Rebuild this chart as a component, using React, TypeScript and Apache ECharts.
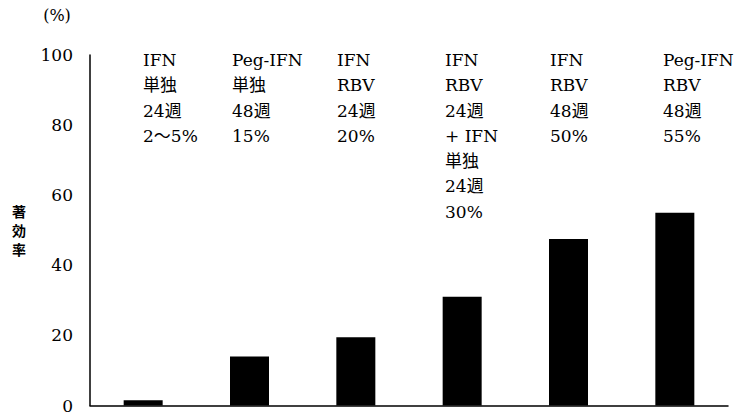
import React, { useEffect, useRef } from "react";
import * as echarts from "echarts";

// ---- Data ----
const categories = [
  "IFN 単独 24週",
  "Peg-IFN 単独 48週",
  "IFN RBV 24週",
  "IFN RBV 24週 + IFN 単独 24週",
  "IFN RBV 48週",
  "Peg-IFN RBV 48週",
];
const efficacy = [1.5, 14, 19.5, 31, 47.5, 55];
const annotations = [
  ["IFN", "単独", "24週", "2～5%"],
  ["Peg-IFN", "単独", "48週", "15%"],
  ["IFN", "RBV", "24週", "20%"],
  ["IFN", "RBV", "24週", "+ IFN", "単独", "24週", "30%"],
  ["IFN", "RBV", "48週", "50%"],
  ["Peg-IFN", "RBV", "48週", "55%"],
];
const yMin = 0;
const yMax = 100;
const yStep = 20;
const yUnit = "(%)";
const yTitle = "著効率";

const FONT = "'DejaVu Serif', 'Noto Sans CJK JP', serif";

export default function App() {
  const ref = useRef<HTMLDivElement>(null);

  useEffect(() => {
    if (!ref.current) return;
    const chart = echarts.init(ref.current, null, { renderer: "svg" });

    const columnX = [143, 232, 337, 445, 550, 663];
    const lineH = 25.3;

    const graphic: any[] = [
      {
        type: "text",
        x: 57,
        y: 15,
        style: {
          text: yUnit,
          font: `16px ${FONT}`,
          fill: "#000",
          align: "center",
          verticalAlign: "middle",
        },
      },
    ];
    yTitle.split("").forEach((ch, i) => {
      graphic.push({
        type: "text",
        x: 19,
        y: 211 + i * 19,
        style: {
          text: ch,
          font: `bold 14px 'Noto Sans CJK JP', sans-serif`,
          fill: "#000",
          align: "center",
          verticalAlign: "middle",
        },
      });
    });
    annotations.forEach((lines, i) => {
      graphic.push({
        type: "text",
        x: columnX[i],
        y: 60 - lineH / 2,
        style: {
          text: lines.join("\n"),
          font: `17px ${FONT}`,
          lineHeight: lineH,
          fill: "#000",
          align: "left",
          verticalAlign: "top",
        },
      });
    });

    chart.setOption({
      animation: false,
      backgroundColor: "#fff",
      grid: { left: 90, right: 18, top: 55, bottom: 5, containLabel: false },
      xAxis: {
        type: "category",
        data: categories,
        axisLine: { show: true, lineStyle: { color: "#000", width: 1.5 } },
        axisTick: { show: false },
        axisLabel: { show: false },
        splitLine: { show: false },
      },
      yAxis: {
        type: "value",
        min: yMin,
        max: yMax,
        interval: yStep,
        axisLine: { show: true, lineStyle: { color: "#000", width: 1.5 } },
        axisTick: { show: false },
        splitLine: { show: false },
        axisLabel: {
          color: "#000",
          fontFamily: FONT,
          fontSize: 17,
          margin: 17,
        },
      },
      series: [
        {
          type: "bar",
          data: efficacy,
          barWidth: 39,
          itemStyle: { color: "#000" },
        },
      ],
      graphic,
    });

    return () => chart.dispose();
  }, []);

  return (
    <div
      ref={ref}
      style={{ position: "absolute", left: 0, top: 0, width: 746, height: 414 }}
    />
  );
}
